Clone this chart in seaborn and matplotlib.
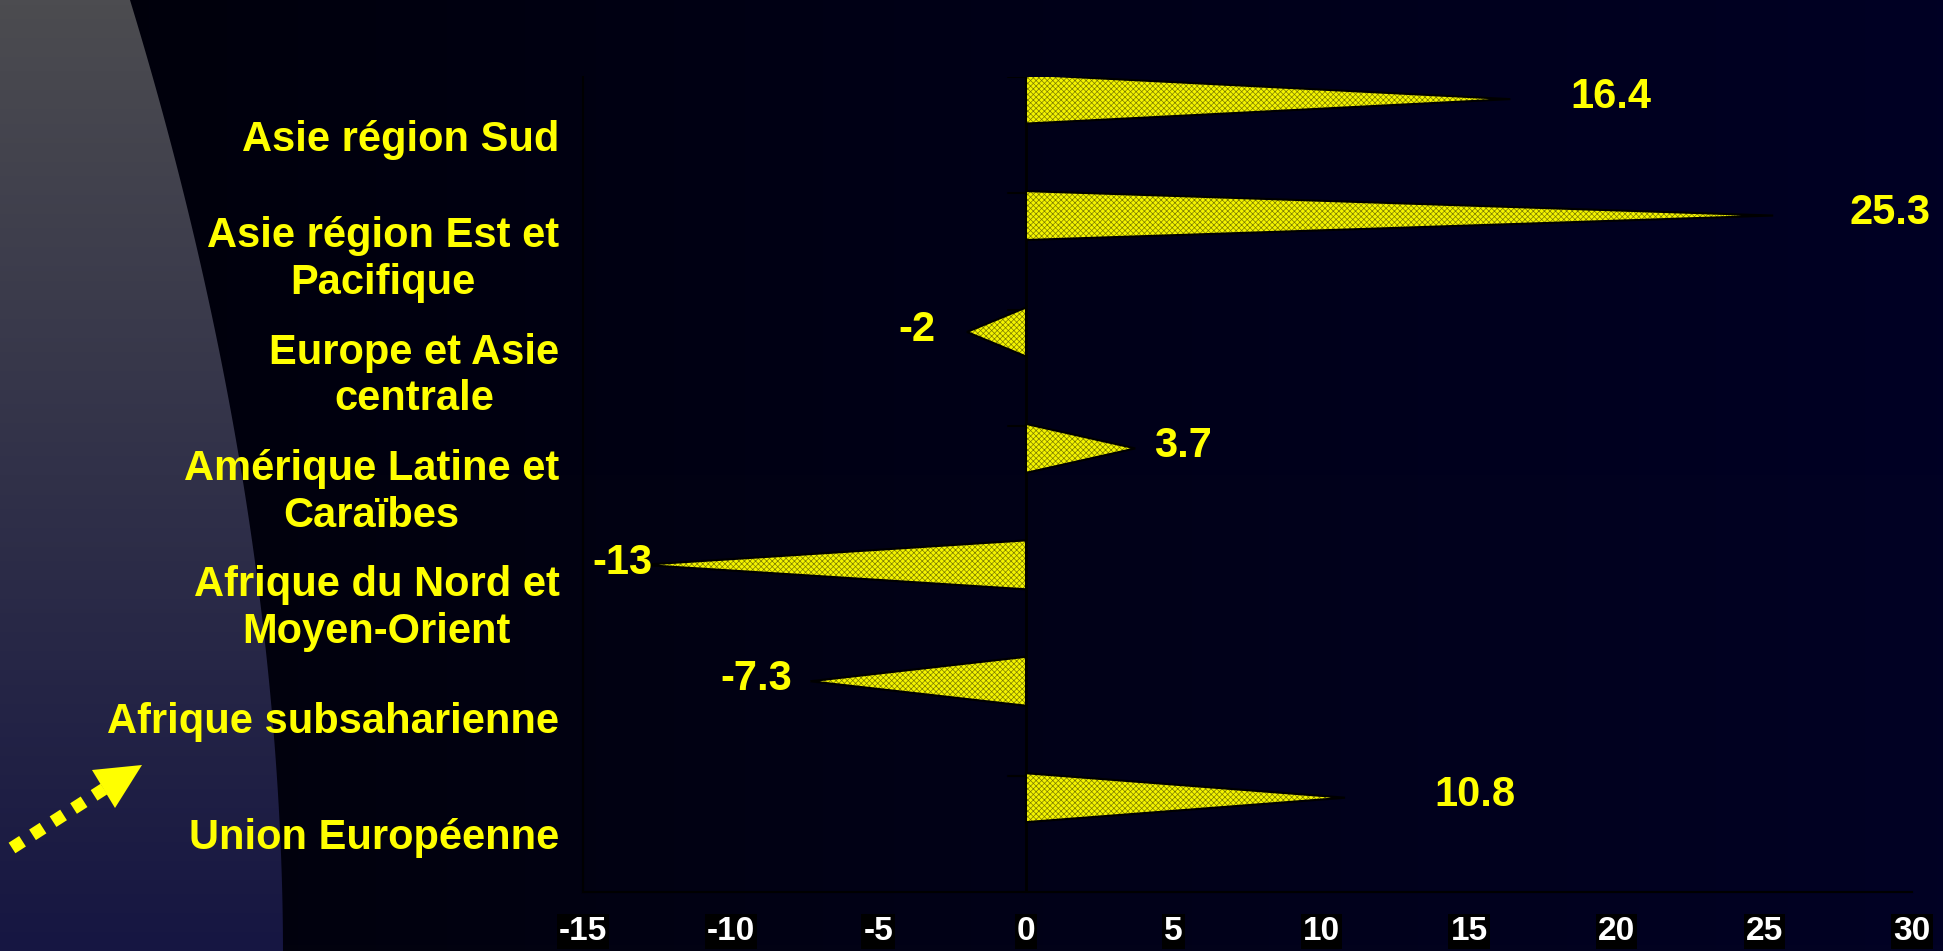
import numpy as np
import matplotlib
matplotlib.use("Agg")
import matplotlib.pyplot as plt
from matplotlib.path import Path
from matplotlib.patches import PathPatch, Polygon
import seaborn as sns

# data
regions = ["Asie région Sud", "Asie région Est et\nPacifique", "Europe et Asie\ncentrale",
           "Amérique Latine et\nCaraïbes", "Afrique du Nord et\nMoyen-Orient",
           "Afrique subsaharienne", "Union Européenne"]
growth = [16.4, 25.3, -2, 3.7, -13, -7.3, 10.8]
value_labels = ["16.4", "25.3", "-2", "3.7", "-13", "-7.3", "10.8"]
x_ticks = [-15, -10, -5, 0, 5, 10, 15, 20, 25, 30]

# label nudges (data units), as the original places them
label_dx = [3.4, 3.95, -1.7, 1.63, -0.65, -1.85, 4.4]

sns.set_style("white")
plt.rcParams["font.family"] = ["Liberation Sans", "DejaVu Sans"]
plt.rcParams["font.weight"] = "bold"
plt.rcParams["hatch.linewidth"] = 0.5

W, H = 1943, 951
fig = plt.figure(figsize=(W / 100, H / 100), dpi=100)
fig.patch.set_facecolor("#00000c")

# background layer in pixel coordinates
bg = fig.add_axes([0, 0, 1, 1])
bg.set_xlim(0, W)
bg.set_ylim(H, 0)
bg.axis("off")

gx, gy = np.meshgrid(np.linspace(0, 1, 300), np.linspace(0, 1, 150))
img = np.zeros(gx.shape + (3,))
img[..., 0] = 2 * gy / 255
img[..., 1] = 2 * gy / 255
img[..., 2] = (10 + 26 * gx) / 255
bg.imshow(img, extent=[0, W, H, 0], aspect="auto", zorder=0)

# grey curved panel on the left
yy = np.linspace(0, H, 120)
xx = 130 + 153 * (1 - (1 - yy / H) ** 1.9)
verts = [(0, 0)] + list(zip(xx, yy)) + [(0, H), (0, 0)]
clip = PathPatch(Path(verts), facecolor="none", edgecolor="none")
bg.add_patch(clip)
t = np.linspace(0, 1, 200)[:, None]
top = np.array([76, 76, 80]) / 255
bot = np.array([22, 22, 66]) / 255
grey = (top * (1 - t) + bot * t)[:, None, :].repeat(2, axis=1)
gimg = bg.imshow(grey, extent=[0, 300, H, 0], aspect="auto", zorder=1)
gimg.set_clip_path(clip)
bg.set_xlim(0, W)
bg.set_ylim(H, 0)

# dotted arrow
bg.plot([12, 104], [848, 789], color="#ffff00", lw=9, linestyle=(0, (1.0, 0.95)),
        solid_capstyle="butt", dash_capstyle="butt", zorder=2)
bg.add_patch(Polygon([(142, 765), (92, 770), (115, 808)], closed=True,
                     facecolor="#ffff00", edgecolor="none", zorder=3))

# main chart
ax = fig.add_axes([583 / W, 1 - 892 / H, (1912 - 583) / W, (892 - 77) / H])
ax.patch.set_alpha(0)
sns.barplot(x=growth, y=regions, orient="h", width=0.42, color="#ffff00", ax=ax)

shift = -0.31
for p, v in zip(list(ax.patches), growth):
    h = p.get_height()
    c = p.get_y() + h / 2 + shift
    p.remove()
    tri = [(0, c - h / 2), (0, c + h / 2), (v, c)]
    ax.add_patch(Polygon(tri, closed=True, facecolor="#f4f400", edgecolor="#7c7c00",
                         hatch="xxxxxx", linewidth=0, zorder=3))
    ax.add_patch(Polygon(tri, closed=True, facecolor="none", edgecolor="black",
                         linewidth=1.5, zorder=4))

for i, (v, lbl) in enumerate(zip(growth, value_labels)):
    ax.text(v + label_dx[i], i + shift - 0.02, lbl, ha="center", va="center",
            color="#ffff00", fontsize=30, fontweight="bold", zorder=5)

ax.set_xlim(-15, 30)
ax.set_ylim(6.5, -0.5)
ax.set_xticks(x_ticks)
ax.set_xticklabels([str(t) for t in x_ticks])
ax.set_yticks(range(len(regions)))
ax.set_yticklabels(regions, ha="right", multialignment="center", linespacing=1.22)
ax.set_yticks(np.arange(-0.5, len(regions), 1), minor=True)
ax.set_xlabel("")
ax.set_ylabel("")

ax.tick_params(axis="y", which="major", length=0, pad=17, labelsize=30, labelcolor="#ffff00")
ax.tick_params(axis="y", which="minor", length=12, width=1.5, color="black", direction="out")
ax.tick_params(axis="x", length=11, width=1.5, color="black", direction="out", pad=6,
               labelsize=24, labelcolor="white")
for lab in ax.get_xticklabels():
    lab.set_fontweight("bold")
    lab.set_bbox(dict(facecolor="black", edgecolor="none", pad=1.5))
for lab in ax.get_yticklabels():
    lab.set_fontweight("bold")

for s in ["top", "right"]:
    ax.spines[s].set_visible(False)
for s in ["left", "bottom"]:
    ax.spines[s].set_color("black")
    ax.spines[s].set_linewidth(1.5)

# category axis crossing at zero
ax.axvline(0, color="black", lw=2, zorder=2)
for b in np.arange(-0.5, len(regions), 1):
    ax.plot([-0.6, 0], [b, b], color="black", lw=1.5, zorder=2)

fig.savefig("out.png", dpi=100, facecolor=fig.get_facecolor())
